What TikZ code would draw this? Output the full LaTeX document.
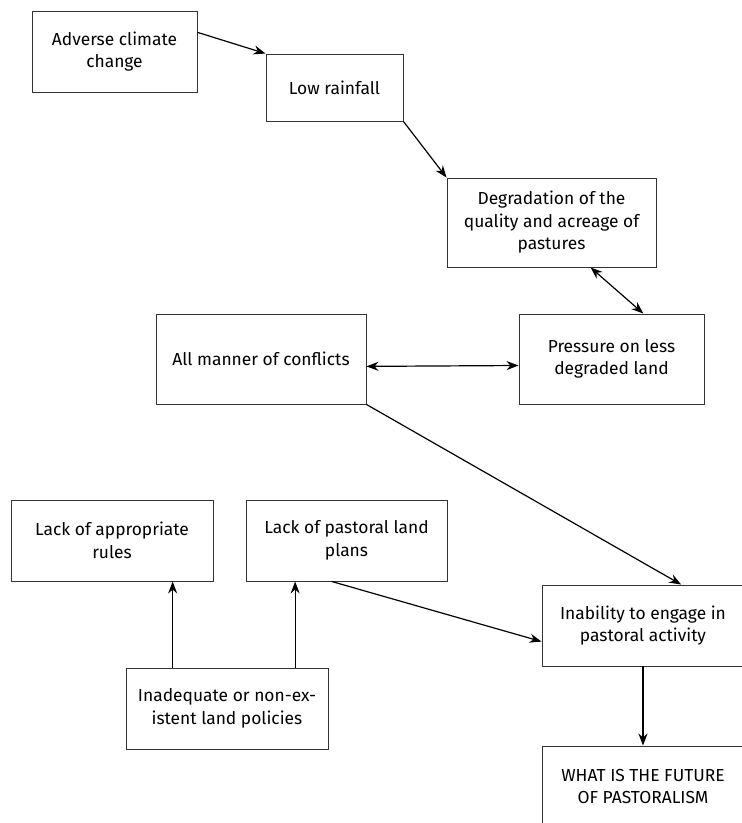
\documentclass[tikz,border=0pt]{standalone}
\usepackage{fontspec}
\setmainfont{Fira Sans}
\usetikzlibrary{arrows.meta,positioning,shapes}

\begin{document}
\begin{tikzpicture}[x=1pt,y=-1pt]
\useasboundingbox[fill=white] (0,0) rectangle (742,823);
\tikzstyle{bnode}=[draw=black!80, line width=0.9pt, align=center, fill=white,
  inner sep=0pt, font=\fontsize{17.4}{22.5}\selectfont]
\node[bnode, minimum width=165, minimum height=81] (CL) at (114.5,51.5) {Adverse climate\\change};
\node[bnode, minimum width=137, minimum height=67] (RF) at (334.5,87.5) {Low rainfall};
\node[bnode, minimum width=209, minimum height=89] (DG) at (551.5,222.5) {Degradation of the\\quality and acreage of\\pastures};
\node[bnode, minimum width=185, minimum height=90] (PR) at (611.5,359) {Pressure on less\\degraded land};
\node[bnode, minimum width=210, minimum height=90] (CF) at (261,359) {All manner of conflicts};
\node[bnode, minimum width=202, minimum height=81] (RU) at (112,540.5) {Lack of appropriate\\rules};
\node[bnode, minimum width=201, minimum height=81] (PL) at (346.5,540.5) {Lack of pastoral land\\plans};
\node[bnode, minimum width=202, minimum height=81] (LP) at (227,708.5) {Inadequate or non-ex-\\istent land policies};
\node[bnode, minimum width=202, minimum height=81] (IN) at (643,625.5) {Inability to engage in\\pastoral activity};
\node[bnode, minimum width=202, minimum height=81] (FU) at (643,786.5) {WHAT IS THE FUTURE\\OF PASTORALISM};
\tikzstyle{barrow}=[-{Stealth[length=12pt,width=9pt]}, line width=1.2pt, black]
\tikzstyle{darrow}=[{Stealth[length=12pt,width=9pt]}-{Stealth[length=12pt,width=9pt]}, line width=1.2pt, black]
\draw[barrow] (CL.13) -- (RF.north west);
\draw[barrow] (RF.south east) -- (DG.north west);
\draw[darrow] (DG.-49) -- (PR.55);
\draw[darrow] (CF.-4) -- (PR.184);
\draw[barrow] (CF.south east) -- (IN.47);
\draw[barrow] (PL.250) -- (IN.189);
\draw[barrow] (IN.south) -- (FU.north);
\draw[barrow] (LP.143) -- (LP.143 |- RU.south);
\draw[barrow] (LP.31.5) -- (LP.31.5 |- PL.south);
\end{tikzpicture}
\end{document}
